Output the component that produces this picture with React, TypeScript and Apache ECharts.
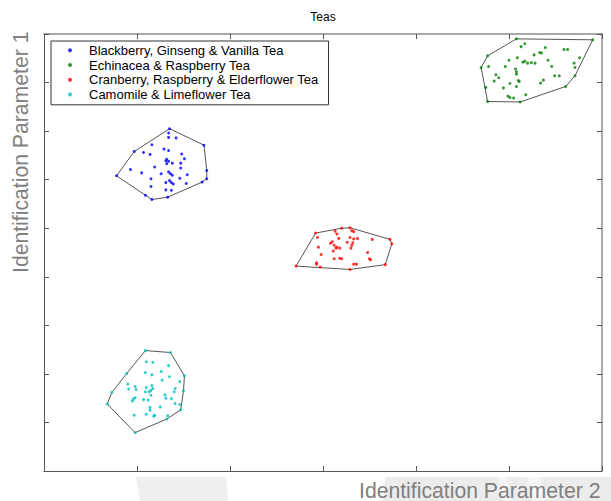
import { useEffect, useRef } from 'react';
import * as echarts from 'echarts';

type Pt = [number, number];

const FONT = '"Liberation Sans", Arial, Helvetica, sans-serif';

const teaNames = [
  'Blackberry, Ginseng & Vanilla Tea',
  'Echinacea & Raspberry Tea',
  'Cranberry, Raspberry & Elderflower Tea',
  'Camomile & Limeflower Tea',
];
const teaColors = ['#0000ff', '#008000', '#ff0000', '#00bfbf'];

const xRange = { min: 0, max: 6, step: 1 };
const yRange = { min: 0, max: 9, step: 1 };

const blackberryGinsengVanilla: Pt[] = [
  [1.35, 7.05], [1.72, 6.71], [1.75, 6.19], [1.75, 6.02], [1.70, 5.95],
  [1.33, 5.64], [1.16, 5.59], [1.09, 5.68], [0.78, 6.08], [0.97, 6.58],
  [1.34, 6.96], [1.34, 6.87], [1.42, 6.86], [1.16, 6.72], [1.29, 6.63],
  [1.34, 6.60], [1.07, 6.56], [1.14, 6.52], [1.48, 6.53], [1.51, 6.43],
  [1.32, 6.42], [1.31, 6.39], [1.34, 6.38], [1.38, 6.34], [1.32, 6.33],
  [1.47, 6.34], [1.19, 6.26], [1.47, 6.24], [0.93, 6.21], [1.05, 6.14],
  [1.26, 6.12], [1.34, 6.16], [1.36, 6.12], [1.38, 6.09], [1.54, 6.10],
  [1.15, 6.02], [1.46, 6.03], [1.35, 5.98], [1.31, 5.94], [1.37, 5.94],
  [1.39, 5.91], [1.15, 5.86], [1.53, 5.92], [1.31, 5.79], [1.37, 5.78],
];

const echinaceaRaspberry: Pt[] = [
  [5.08, 8.90], [5.90, 8.88], [5.71, 8.14], [5.61, 7.92], [5.12, 7.60],
  [4.77, 7.61], [4.75, 7.90], [4.70, 8.31], [4.77, 8.55],
  [5.17, 8.80], [5.13, 8.74], [5.39, 8.72], [5.33, 8.62], [5.35, 8.61],
  [5.27, 8.57], [5.59, 8.68], [5.63, 8.68], [5.09, 8.51], [5.00, 8.46],
  [5.42, 8.46], [5.76, 8.51], [5.17, 8.44], [5.15, 8.42], [5.20, 8.40],
  [5.24, 8.41], [5.28, 8.40], [5.70, 8.40], [4.78, 8.33], [4.96, 8.33],
  [5.46, 8.33], [5.71, 8.31], [5.07, 8.28], [5.08, 8.22], [5.08, 8.17],
  [4.86, 8.16], [5.49, 8.14], [5.54, 8.14], [4.89, 8.10], [4.84, 8.03],
  [5.10, 8.04], [5.11, 8.02], [5.37, 8.05], [5.34, 7.99], [5.01, 7.98],
  [4.94, 7.89], [5.08, 7.92], [5.18, 7.75], [4.99, 7.72], [5.01, 7.69],
  [5.05, 7.68],
];

const cranberryRaspberryElderflower: Pt[] = [
  [2.92, 4.90], [3.20, 5.00], [3.29, 5.01], [3.72, 4.77], [3.74, 4.68],
  [3.67, 4.25], [3.29, 4.15], [2.97, 4.20], [2.71, 4.22],
  [2.94, 4.81], [3.13, 4.94], [3.15, 4.88], [3.31, 4.95], [3.33, 4.93],
  [3.37, 4.79], [3.29, 4.81], [3.26, 4.71], [3.32, 4.70], [3.31, 4.65],
  [3.30, 4.59], [3.08, 4.69], [3.10, 4.72], [3.12, 4.65], [3.14, 4.59],
  [3.11, 4.53], [3.15, 4.61], [3.18, 4.59], [2.95, 4.61], [2.98, 4.46],
  [3.12, 4.37], [3.18, 4.38], [3.20, 4.37], [3.33, 4.78], [3.33, 4.26],
  [3.36, 4.26], [3.48, 4.50], [3.50, 4.37], [3.51, 4.35], [3.53, 4.77],
  [2.93, 4.29], [2.93, 4.26], [3.17, 4.79],
];

const camomileLimeflower: Pt[] = [
  [1.09, 2.48], [1.36, 2.44], [1.51, 1.96], [1.50, 1.65], [1.47, 1.26],
  [1.32, 1.07], [0.98, 0.79], [0.68, 1.38], [0.73, 1.62], [0.89, 2.01],
  [1.10, 2.25], [1.17, 2.24], [1.34, 2.17], [1.09, 2.03], [1.16, 1.98],
  [1.26, 2.05], [1.35, 1.94], [1.27, 1.87], [1.46, 1.84], [0.90, 1.79],
  [0.98, 1.74], [0.99, 1.68], [1.10, 1.72], [1.16, 1.76], [1.17, 1.70],
  [1.41, 1.70], [0.91, 1.69], [1.09, 1.63], [1.13, 1.63], [1.15, 1.66],
  [1.15, 1.56], [1.40, 1.63], [1.30, 1.57], [1.31, 1.50], [1.37, 1.49],
  [0.98, 1.51], [0.96, 1.48], [0.95, 1.44], [1.07, 1.47], [1.12, 1.46],
  [1.41, 1.39], [1.46, 1.37], [1.25, 1.32], [1.14, 1.31], [1.14, 1.25],
  [1.10, 1.17], [1.18, 1.13], [1.19, 1.15], [0.97, 1.15], [1.33, 1.14],
];

const teaPoints: Pt[][] = [
  blackberryGinsengVanilla,
  echinaceaRaspberry,
  cranberryRaspberryElderflower,
  camomileLimeflower,
];

// Monotone-chain convex hull, returned as a closed ring.
function convexHull(points: Pt[]): Pt[] {
  const p = [...points].sort((a, b) => a[0] - b[0] || a[1] - b[1]);
  const cross = (o: Pt, a: Pt, b: Pt) =>
    (a[0] - o[0]) * (b[1] - o[1]) - (a[1] - o[1]) * (b[0] - o[0]);
  const lower: Pt[] = [];
  for (const pt of p) {
    while (lower.length >= 2 && cross(lower[lower.length - 2], lower[lower.length - 1], pt) <= 0) lower.pop();
    lower.push(pt);
  }
  const upper: Pt[] = [];
  for (let i = p.length - 1; i >= 0; i--) {
    const pt = p[i];
    while (upper.length >= 2 && cross(upper[upper.length - 2], upper[upper.length - 1], pt) <= 0) upper.pop();
    upper.push(pt);
  }
  upper.pop();
  lower.pop();
  const hull = lower.concat(upper);
  return [...hull, hull[0]];
}

function buildOption(): echarts.EChartsOption {
  const hullSeries = teaPoints.map((pts, i) => ({
    type: 'line' as const,
    name: `${teaNames[i]} (hull)`,
    data: convexHull(pts),
    showSymbol: false,
    symbol: 'none',
    silent: true,
    z: 1,
    lineStyle: { color: '#555555', width: 1 },
  }));
  const scatterSeries = teaPoints.map((pts, i) => ({
    type: 'scatter' as const,
    name: teaNames[i],
    data: pts,
    symbol: 'circle',
    symbolSize: 3,
    z: 2,
    itemStyle: { color: teaColors[i] },
  }));

  const baseAxis = {
    type: 'value' as const,
    axisLabel: { show: false },
    splitLine: { show: false },
  };

  return {
    animation: false,
    backgroundColor: '#ffffff',
    textStyle: { fontFamily: FONT },
    title: {
      text: 'Teas',
      left: 323,
      top: 11,
      padding: 0,
      textAlign: 'center',
      textStyle: { fontSize: 12, fontWeight: 'normal', color: '#000', fontFamily: FONT },
    },
    grid: { left: 44, top: 34, right: 9, bottom: 30, containLabel: false },
    legend: {
      data: teaNames,
      orient: 'vertical',
      left: 51,
      top: 41,
      padding: [2, 10, 3, 17],
      itemGap: 0,
      itemWidth: 4,
      itemHeight: 4,
      icon: 'circle',
      borderColor: '#333',
      borderWidth: 1,
      backgroundColor: '#ffffff',
      selectedMode: false,
      textStyle: {
        fontSize: 13,
        color: '#000',
        lineHeight: 14.7,
        padding: [0, 0, 0, 12],
        fontFamily: FONT,
      },
    },
    xAxis: [
      {
        ...baseAxis,
        min: xRange.min,
        max: xRange.max,
        interval: xRange.step,
        position: 'bottom',
        axisLine: { show: true, onZero: false, lineStyle: { color: '#555', width: 1 } },
        axisTick: { show: true, inside: true, length: 5, lineStyle: { color: '#555' } },
      },
      {
        ...baseAxis,
        min: xRange.min,
        max: xRange.max,
        interval: xRange.step,
        position: 'top',
        axisLine: { show: true, onZero: false, lineStyle: { color: '#8c8c8c', width: 1.5 } },
        axisTick: { show: true, inside: true, length: 5, lineStyle: { color: '#555' } },
      },
    ],
    yAxis: [
      {
        ...baseAxis,
        min: yRange.min,
        max: yRange.max,
        interval: yRange.step,
        position: 'left',
        axisLine: { show: true, onZero: false, lineStyle: { color: '#555', width: 1 } },
        axisTick: { show: true, inside: true, length: 5, lineStyle: { color: '#555' } },
      },
      {
        ...baseAxis,
        min: yRange.min,
        max: yRange.max,
        interval: yRange.step,
        position: 'right',
        axisLine: { show: true, onZero: false, lineStyle: { color: '#8c8c8c', width: 1.5 } },
        axisTick: { show: true, inside: true, length: 5, lineStyle: { color: '#555' } },
      },
    ],
    graphic: [
      // pale background bands along the foot of the figure
      {
        type: 'polygon',
        z: -10,
        silent: true,
        shape: { points: [[136, 477], [226, 477], [228, 501], [140, 501]] },
        style: { fill: '#efefef' },
      },
      {
        type: 'polygon',
        z: -10,
        silent: true,
        shape: { points: [[385, 477], [611, 477], [611, 501], [383, 501]] },
        style: { fill: '#ececec' },
      },
      {
        type: 'polygon',
        z: -9,
        silent: true,
        shape: { points: [[498, 477], [506, 477], [511, 501], [503, 501]] },
        style: { fill: '#f6f6f6' },
      },
      {
        type: 'polygon',
        z: -9,
        silent: true,
        shape: { points: [[527, 477], [540, 477], [546, 501], [533, 501]] },
        style: { fill: '#f6f6f6' },
      },
      // axis titles, anchored at their first letter
      {
        type: 'text',
        x: 359,
        y: 490,
        silent: true,
        style: {
          text: 'Identification Parameter 2',
          fontSize: 21.2,
          fill: '#808080',
          align: 'left',
          verticalAlign: 'middle',
          fontFamily: FONT,
        },
      },
      {
        type: 'text',
        x: 20,
        y: 273,
        rotation: Math.PI / 2,
        silent: true,
        style: {
          text: 'Identification Parameter 1',
          fontSize: 21.2,
          fill: '#808080',
          align: 'left',
          verticalAlign: 'middle',
          fontFamily: FONT,
        },
      },
    ],
    series: [...hullSeries, ...scatterSeries],
  } as echarts.EChartsOption;
}

export default function App() {
  const ref = useRef<HTMLDivElement>(null);

  useEffect(() => {
    if (!ref.current) return;
    const chart = echarts.init(ref.current, undefined, { renderer: 'svg' });
    chart.setOption(buildOption());
    return () => chart.dispose();
  }, []);

  return (
    <div
      ref={ref}
      style={{ position: 'fixed', left: 0, top: 0, width: 611, height: 501, background: '#fff' }}
    />
  );
}
